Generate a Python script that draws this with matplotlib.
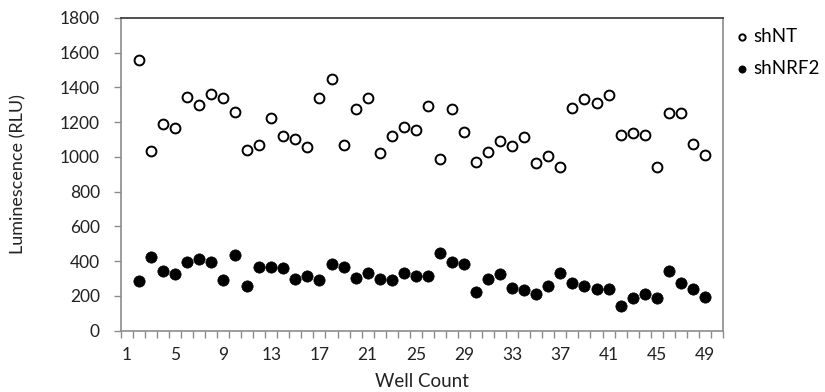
import matplotlib
matplotlib.use("Agg")
import matplotlib.pyplot as plt
from matplotlib.ticker import FixedLocator

plt.rcParams['font.family'] = ['Lato', 'DejaVu Sans']

# Well positions on the plate (edge wells 1 and 50 are empty)
wells = list(range(2, 50))

sh_nt = [1556, 1033, 1188, 1165, 1343, 1297, 1361, 1338, 1257, 1038,
         1067, 1224, 1119, 1102, 1059, 1341, 1447, 1071, 1274, 1338,
         1021, 1119, 1171, 1157, 1292, 987, 1274, 1144, 973, 1030,
         1090, 1061, 1113, 963, 1007, 940, 1280, 1336, 1312, 1359,
         1125, 1136, 1125, 944, 1251, 1251, 1073, 1011]

sh_nrf2 = [288, 424, 342, 325, 397, 414, 397, 292, 437, 256,
           365, 365, 361, 299, 313, 292, 386, 365, 301, 330,
           299, 290, 330, 317, 313, 445, 395, 382, 221, 298,
           325, 244, 236, 211, 257, 330, 276, 256, 238, 238,
           140, 190, 209, 186, 342, 276, 238, 192]

x_tick_labels = [1, 5, 9, 13, 17, 21, 25, 29, 33, 37, 41, 45, 49]
y_ticks = list(range(0, 1801, 200))

W, H = 825, 392
left, right, top, bottom = 120.7, 723, 18, 330.7

fig = plt.figure(figsize=(W / 100, H / 100), dpi=100)
ax = fig.add_axes([left / W, 1 - bottom / H, (right - left) / W, (bottom - top) / H])

ax.scatter(wells, sh_nt, s=50, facecolors='white', edgecolors='black',
           linewidths=1.4, zorder=3, label='shNT')
ax.scatter(wells, sh_nrf2, s=66, facecolors='black', edgecolors='black',
           linewidths=0.5, zorder=3, label='shNRF2')

ax.set_xlim(0.5, 50.5)
ax.set_ylim(0, 1800)
ax.xaxis.set_major_locator(FixedLocator(x_tick_labels))
ax.set_xticklabels([str(v) for v in x_tick_labels])
ax.xaxis.set_minor_locator(FixedLocator([i + 0.5 for i in range(0, 51)]))
ax.set_yticks(y_ticks)

gray = '#8c8c8c'
text_color = '#222222'
for side in ('left', 'bottom', 'right'):
    ax.spines[side].set_color(gray)
    ax.spines[side].set_linewidth(1.2)
ax.spines['top'].set_color('#333333')
ax.spines['top'].set_linewidth(1.2)

ax.tick_params(axis='x', which='major', length=0, pad=12, labelsize=12.5, colors=text_color)
ax.tick_params(axis='x', which='minor', length=5, width=1, color=gray, direction='out')
ax.tick_params(axis='y', which='major', length=5, width=1, color=gray, pad=10,
               labelsize=12.5, labelcolor=text_color, direction='out')

ax.set_xlabel('Well Count', fontsize=13.5, color=text_color)
ax.set_ylabel('Luminescence (RLU)', fontsize=13, color=text_color)
ax.xaxis.set_label_coords(0.5, (bottom - 373) / (bottom - top))
ax.yaxis.set_label_coords((26 - left) / (right - left), 0.5)

ax.legend(loc='upper left', bbox_to_anchor=(733 / W, 1 - 28 / H),
          bbox_transform=fig.transFigure, frameon=False, fontsize=13.5,
          markerscale=0.64, handletextpad=0.1, labelspacing=0.8,
          borderaxespad=0, borderpad=0, handlelength=1.0)

fig.savefig('out.png', dpi=100)
